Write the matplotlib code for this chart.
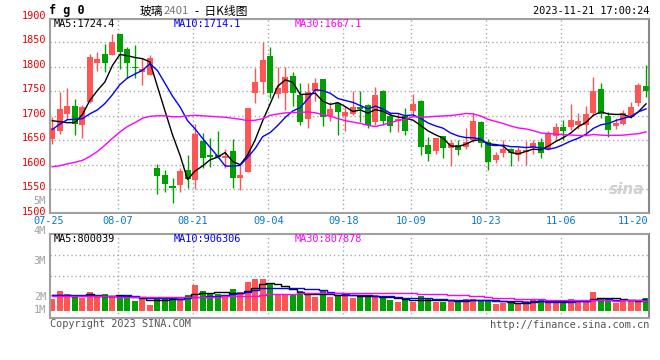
import matplotlib as mpl
mpl.use("Agg")
import matplotlib.pyplot as plt
import matplotlib.transforms as mtransforms
import numpy as np
import pandas as pd

# trading days shown (2023)
dates = ["07-25", "07-26", "07-27", "07-28", "07-31",
         "08-01", "08-02", "08-03", "08-04", "08-07", "08-08", "08-09", "08-10", "08-11",
         "08-14", "08-15", "08-16", "08-17", "08-18", "08-21", "08-22", "08-23", "08-24",
         "08-25", "08-28", "08-29", "08-30", "08-31",
         "09-01", "09-04", "09-05", "09-06", "09-07", "09-08", "09-11", "09-12", "09-13",
         "09-14", "09-15", "09-18", "09-19", "09-20", "09-21", "09-22", "09-25", "09-26",
         "09-27", "09-28",
         "10-09", "10-10", "10-11", "10-12", "10-13", "10-16", "10-17", "10-18", "10-19",
         "10-20", "10-23", "10-24", "10-25", "10-26", "10-27", "10-30", "10-31",
         "11-01", "11-02", "11-03", "11-06", "11-07", "11-08", "11-09", "11-10", "11-13",
         "11-14", "11-15", "11-16", "11-17", "11-20", "11-21"]

opens = [1652, 1670, 1703, 1720, 1682, 1728, 1808, 1826, 1825, 1867,
         1837, 1799, 1790, 1783, 1593, 1579, 1556, 1558, 1589, 1568,
         1649, 1619, 1619, 1613, 1628, 1573, 1585, 1747, 1770, 1822,
         1744, 1746, 1781, 1743, 1694, 1751, 1775, 1700, 1726, 1700,
         1703, 1718, 1722, 1688, 1751, 1700, 1690, 1700, 1710, 1730,
         1641, 1629, 1659, 1635, 1641, 1637, 1651, 1688, 1646, 1609,
         1624, 1632, 1620, 1627, 1635, 1646, 1632, 1659, 1677, 1678,
         1681, 1681, 1706, 1755, 1700, 1679, 1683, 1698, 1727, 1761]
highs = [1698, 1749, 1757, 1734, 1722, 1827, 1831, 1847, 1867, 1867,
         1840, 1845, 1817, 1824, 1601, 1590, 1573, 1593, 1621, 1683,
         1664, 1654, 1668, 1632, 1652, 1600, 1716, 1797, 1850, 1840,
         1800, 1800, 1790, 1766, 1766, 1778, 1776, 1728, 1726, 1721,
         1751, 1751, 1725, 1758, 1753, 1705, 1705, 1716, 1745, 1732,
         1657, 1654, 1659, 1650, 1650, 1675, 1705, 1689, 1653, 1626,
         1650, 1634, 1637, 1649, 1651, 1654, 1668, 1685, 1691, 1724,
         1706, 1719, 1780, 1766, 1707, 1695, 1711, 1728, 1766, 1804]
lows = [1643, 1663, 1693, 1660, 1655, 1727, 1792, 1790, 1825, 1795,
        1777, 1777, 1763, 1783, 1541, 1545, 1523, 1545, 1553, 1550,
        1593, 1596, 1613, 1593, 1552, 1549, 1585, 1726, 1744, 1736,
        1736, 1711, 1720, 1681, 1676, 1731, 1680, 1690, 1660, 1670,
        1702, 1688, 1676, 1681, 1681, 1667, 1666, 1660, 1702, 1619,
        1607, 1623, 1613, 1598, 1619, 1633, 1647, 1637, 1590, 1603,
        1615, 1597, 1607, 1600, 1622, 1613, 1630, 1651, 1650, 1671,
        1673, 1661, 1700, 1696, 1656, 1673, 1681, 1695, 1719, 1739]
closes = [1675, 1714, 1721, 1683, 1718, 1821, 1815, 1808, 1851, 1831,
          1808, 1797, 1796, 1818, 1578, 1561, 1553, 1588, 1571, 1663,
          1613, 1616, 1615, 1618, 1573, 1579, 1716, 1769, 1813, 1747,
          1757, 1780, 1746, 1688, 1749, 1767, 1698, 1714, 1707, 1707,
          1718, 1714, 1681, 1743, 1690, 1680, 1694, 1668, 1724, 1637,
          1623, 1654, 1634, 1645, 1630, 1647, 1690, 1644, 1605, 1620,
          1632, 1624, 1630, 1630, 1644, 1625, 1662, 1677, 1669, 1692,
          1690, 1704, 1751, 1703, 1671, 1685, 1705, 1718, 1763, 1751]
volumes = [939000, 1583000, 1315000, 1100000, 1047000, 1503000, 1073000, 1315000, 1100000, 1127000,
           1100000, 805000, 966000, 456000, 993000, 1073000, 1073000, 1073000, 1261000, 2066000,
           1583000, 1315000, 1315000, 1181000, 1744000, 1476000, 2308000, 2549000, 2549000, 2120000,
           1315000, 1369000, 1261000, 1583000, 1315000, 1100000, 1583000, 1127000, 1208000, 1261000,
           1047000, 1127000, 1127000, 1261000, 1047000, 859000, 698000, 859000, 725000, 1208000,
           939000, 725000, 725000, 859000, 671000, 939000, 939000, 859000, 859000, 537000,
           590000, 590000, 590000, 805000, 859000, 859000, 725000, 671000, 725000, 939000,
           725000, 859000, 1530000, 1047000, 939000, 590000, 751000, 859000, 751000, 1047000]

# moving-average values before enough days are in view
ma5_head = [1690, 1688, 1686, 1686]
ma10_head = [1672, 1683, 1692, 1693, 1694, 1704, 1712, 1725, 1743]
ma30_head = [1596, 1598, 1602, 1605, 1609, 1617, 1627, 1640, 1654, 1667,
             1678, 1686, 1695, 1699, 1700, 1700, 1698, 1698, 1700, 1701,
             1700, 1699, 1698, 1697, 1695, 1693, 1690, 1691, 1694]
vma5_head = [1230000, 1290000, 1260000, 1220000]
vma10_head = [1250000, 1250000, 1245000, 1240000, 1235000, 1230000, 1225000, 1220000, 1215000]
vma30_head = [1160000, 1160000, 1160000, 1155000, 1150000, 1150000, 1150000, 1150000, 1145000, 1140000,
              1130000, 1120000, 1110000, 1100000, 1090000, 1080000, 1080000, 1080000, 1090000, 1110000,
              1120000, 1130000, 1140000, 1150000, 1160000, 1170000, 1190000, 1210000, 1230000]

label_dates = ["08-07", "08-21", "09-04", "09-18", "10-09", "10-23", "11-06"]
price_ticks = [1500, 1550, 1600, 1650, 1700, 1750, 1800, 1850, 1900]

RED = "#ff5555"
GREEN = "#00a000"
MONO = "DejaVu Sans Mono"


def with_head(values, n, head):
    s = pd.Series(values, dtype=float).rolling(n).mean()
    s.iloc[:len(head)] = head
    return s.values


W, H = 660, 360
fig = plt.figure(figsize=(6.6, 3.6), dpi=100)
fig.patch.set_facecolor("white")


def fx(px):
    return px / W


def fy(py):
    return 1 - py / H


ax = fig.add_axes([fx(50), fy(213.3), fx(649.3) - fx(50), fy(18.8) - fy(213.3)])
axv = fig.add_axes([fx(50), fy(318.3), fx(649.3) - fx(50), fy(234.3) - fy(318.3)])

x = np.arange(len(dates))
o = np.array(opens, float)
c = np.array(closes, float)
up = c >= o
cols = np.where(up, RED, GREEN)

# grid
for a in (ax, axv):
    for d in label_dates:
        a.axvline(dates.index(d) - 0.25, color="#aaaaaa", lw=1, ls=(0, (1, 2)), zorder=0)
for p in price_ticks[1:-1]:
    ax.axhline(p, color="#aaaaaa", lw=1, ls=(0, (1, 2)), zorder=0)
for fr in (0.5, 0.75):
    axv.plot([0, 1], [fr, fr], transform=axv.transAxes, color="#aaaaaa", lw=1,
             ls=(0, (1, 2)), zorder=0)

# candles
ax.vlines(x, lows, highs, colors=cols, lw=1, zorder=2)
body_h = np.maximum(np.abs(c - o), 1.5)
ax.bar(x, body_h, bottom=np.minimum(o, c), width=0.8, color=cols, zorder=3)

ax.plot(x, with_head(closes, 5, ma5_head), color="black", lw=1, zorder=4)
ax.plot(x, with_head(closes, 10, ma10_head), color="#0000ff", lw=1, zorder=4)
ax.plot(x, with_head(closes, 30, ma30_head), color="#ff00ff", lw=1, zorder=4)

ax.set_xlim(-0.3, 79.44)
ax.set_ylim(1501, 1898)

# volume
axv.bar(x, volumes, width=0.8, color=cols, zorder=2)
axv.plot(x, with_head(volumes, 5, vma5_head), color="black", lw=1, drawstyle="steps-mid", zorder=3)
axv.plot(x, with_head(volumes, 10, vma10_head), color="#0000ff", lw=1, drawstyle="steps-mid", zorder=3)
axv.plot(x, with_head(volumes, 30, vma30_head), color="#ff00ff", lw=1, drawstyle="steps-mid", zorder=3)
axv.set_xlim(-0.3, 79.44)
axv.set_ylim(-612000, 6150000)

for a in (ax, axv):
    a.set_xticks([])
    a.set_yticks([])
    a.spines["left"].set_color("#a0a0a0")
    a.spines["right"].set_color("#888888")
    a.spines["left"].set_linewidth(1.5)
    a.spines["right"].set_linewidth(1.5)
    for s in ("top", "bottom"):
        a.spines[s].set_color("#a0a0a0")
        a.spines[s].set_linewidth(1.5)
        a.spines[s].set_linestyle((0, (1, 1)))
axv.spines["bottom"].set_linestyle("-")

# price labels
ylab_tr = mtransforms.blended_transform_factory(ax.transAxes, ax.transData) + \
    mtransforms.ScaledTranslation(0, 2 / 100, fig.dpi_scale_trans)
for p in price_ticks:
    ax.text(-0.0067, p, str(p), transform=ylab_tr, ha="right", va="center",
            color="#ee0000", fontsize=7.4, family=MONO, clip_on=False)

# volume labels (as placed by the source chart)
for lab, py in [("5M", 200.7), ("4M", 230.7), ("3M", 261), ("2M", 297), ("1M", 310)]:
    fig.text(fx(46), fy(py), lab, ha="right", va="center", color="#a0a0a0",
             fontsize=7.4, family=MONO)

# date labels
date_y = fy(221)
date_tr = mtransforms.blended_transform_factory(ax.transData, fig.transFigure)
fig.text(fx(49), date_y, dates[0], ha="center", va="center", color="#0a78d2",
         fontsize=7.4, family=MONO)
for d in label_dates:
    ax.text(dates.index(d) - 0.25, date_y, d, transform=date_tr, ha="center", va="center",
            color="#0a78d2", fontsize=7.4, family=MONO, clip_on=False)
fig.text(fx(648), date_y, dates[-2], ha="right", va="center", color="#0a78d2",
         fontsize=7.4, family=MONO)

# title row
fig.text(fx(49), fy(10.5), "f g 0", ha="left", va="center", fontsize=8.5, family=MONO,
         fontweight="bold", color="black")
cjk = ["Noto Sans CJK SC", "DejaVu Sans"]
fig.text(fx(140), fy(11), "玻璃", ha="left", va="center", fontsize=8.5, family=cjk, color="black")
fig.text(fx(163.5), fy(11), "2401", ha="left", va="center", fontsize=8.2, family=cjk, color="#777777")
fig.text(fx(195), fy(11), "-  日K线图", ha="left", va="center", fontsize=8.5, family=cjk, color="black")
fig.text(fx(649), fy(11.5), "2023-11-21 17:00:24", ha="right", va="center", fontsize=7.4,
         family=MONO, color="black")

# MA legends
for lab, px, col in [("MA5:1724.4", 54, "black"), ("MA10:1714.1", 174, "#0000ff"),
                     ("MA30:1667.1", 295, "#ff00ff")]:
    fig.text(fx(px), fy(24), lab, ha="left", va="center", fontsize=7.4, family=MONO, color=col)
for lab, px, col in [("MA5:800039", 54, "black"), ("MA10:906306", 174, "#0000ff"),
                     ("MA30:807878", 295, "#ff00ff")]:
    fig.text(fx(px), fy(238.5), lab, ha="left", va="center", fontsize=7.4, family=MONO, color=col)

# watermark and footer
fig.text(fx(627), fy(189), "sina", ha="center", va="center", fontsize=11, style="italic",
         fontweight="bold", color="#d0d0d0")
fig.text(fx(50), fy(324), "Copyright 2023 SINA.COM", ha="left", va="center", fontsize=7.4,
         family=MONO, color="#555555")
fig.text(fx(649), fy(324.5), "http://finance.sina.com.cn", ha="right", va="center", fontsize=7.4,
         family=MONO, color="#555555")

fig.savefig("out.png", dpi=100, facecolor="white")
